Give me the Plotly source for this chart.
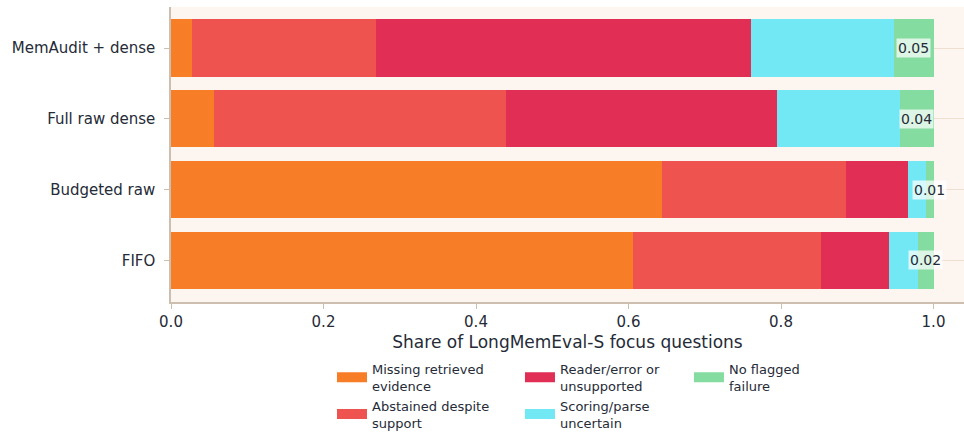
import plotly.graph_objects as go

categories = ["MemAudit + dense", "Full raw dense", "Budgeted raw", "FIFO"]
series_names = [
    "Missing retrieved<br>evidence",
    "Abstained despite<br>support",
    "Reader/error or<br>unsupported",
    "Scoring/parse<br>uncertain",
    "No flagged<br>failure",
]
missing = [0.028, 0.056, 0.644, 0.606]
abstained = [0.241, 0.383, 0.241, 0.246]
reader = [0.492, 0.356, 0.081, 0.090]
scoring = [0.187, 0.161, 0.024, 0.038]
no_fail = [0.052, 0.044, 0.010, 0.020]
x_ticks = [0.0, 0.2, 0.4, 0.6, 0.8, 1.0]

colors = ["#F77E27", "#EF5350", "#E12E55", "#72E8F4", "#85DCA0"]
values = [missing, abstained, reader, scoring, no_fail]
legend_ids = ["legend", "legend", "legend2", "legend2", "legend3"]

FONT = "DejaVu Sans"
TXT = "#252b37"
fig = go.Figure()
for name, vals, col in zip(series_names, values, colors):
    fig.add_trace(go.Bar(
        y=categories, x=vals, orientation="h", name=name,
        marker=dict(color=col, line=dict(width=0)),
        showlegend=False, hoverinfo="x+y",
    ))
# legend entries (wide swatches)
for name, col, lg in zip(series_names, colors, legend_ids):
    fig.add_trace(go.Scatter(
        x=[None], y=[None], mode="lines", name=name,
        line=dict(color=col, width=10), legend=lg, showlegend=True,
    ))

for cat, v in zip(categories, no_fail):
    fig.add_annotation(
        x=1 - v / 2, y=cat, xref="x", yref="y", text=f"{v:.2f}",
        showarrow=False, font=dict(family=FONT, size=14, color=TXT),
        bgcolor="rgba(255,255,255,0.72)", borderpad=1,
    )

legend_common = dict(
    orientation="v", xanchor="left", yanchor="top", bgcolor="rgba(0,0,0,0)",
    font=dict(family=FONT, size=13, color=TXT), tracegroupgap=0,
    itemclick=False, traceorder="normal", xref="container", yref="container",
)
LEG_Y = 0.181
fig.update_layout(
    width=964, height=432,
    margin=dict(l=171, r=0, t=7, b=130, autoexpand=False),
    paper_bgcolor="white", plot_bgcolor="#FDF6F0",
    barmode="stack", bargap=0.19,
    font=dict(family=FONT, size=15, color=TXT),
    xaxis=dict(
        range=[0, 1.04], tickvals=x_ticks, ticktext=[f"{t:.1f}" for t in x_ticks],
        showgrid=False, zeroline=False, showline=True, linecolor="#CDBFB0",
        linewidth=1.5, ticks="outside", ticklen=5, tickcolor="#CDBFB0",
        tickfont=dict(family=FONT, size=15, color=TXT), automargin=False,
        title=dict(text="Share of LongMemEval-S focus questions",
                   font=dict(family=FONT, size=17, color=TXT), standoff=6),
    ),
    yaxis=dict(
        range=[3.59, -0.58], showgrid=True, gridcolor="#EEDFD0", gridwidth=1,
        zeroline=False, showline=True, linecolor="#CDBFB0", linewidth=1.5,
        ticks="outside", ticklen=5, tickcolor="#CDBFB0", ticklabelstandoff=6,
        tickfont=dict(family=FONT, size=15, color=TXT), automargin=False,
    ),
    legend=dict(x=0.3444, y=LEG_Y, **legend_common),
    legend2=dict(x=0.5394, y=LEG_Y, **legend_common),
    legend3=dict(x=0.7147, y=LEG_Y, **legend_common),
)

fig.write_html("out.html", config={"displayModeBar": False},
               post_script="document.body.style.margin='0';")
